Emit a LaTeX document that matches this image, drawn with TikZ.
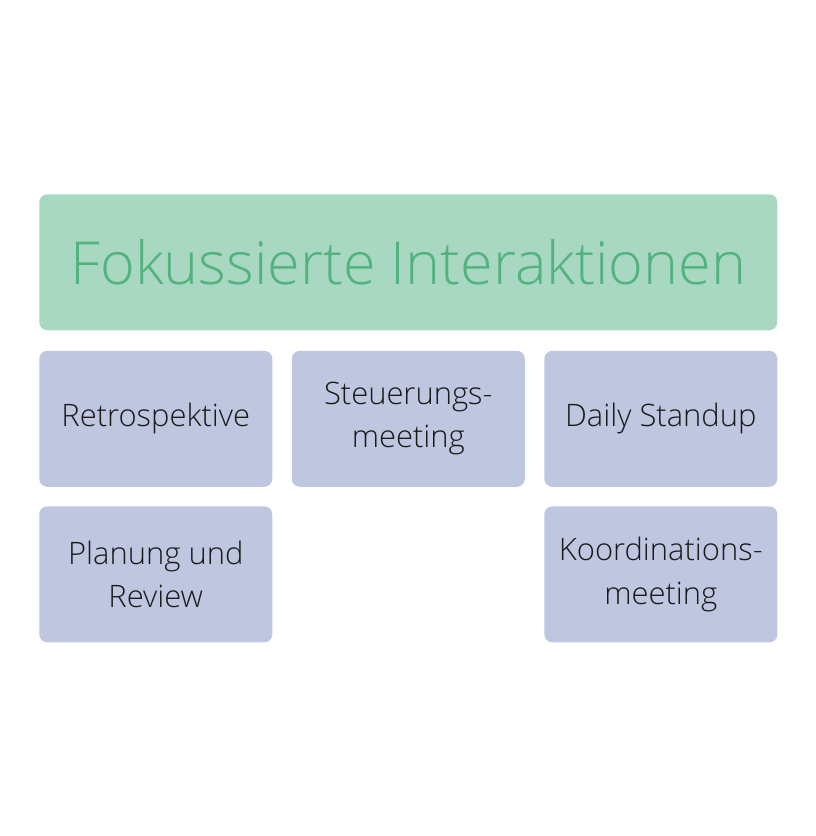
\documentclass[tikz,border=0pt]{standalone}
\usepackage{fontspec}
\setmainfont{Open Sans}[UprightFont={* Light}]
\usetikzlibrary{positioning}
\definecolor{headfill}{HTML}{A8D8C1}
\definecolor{headtext}{HTML}{52B37F}
\definecolor{boxfill}{HTML}{BFC6E0}
\definecolor{boxtext}{HTML}{1A1A1A}

\begin{document}
\begin{tikzpicture}[x=0.75pt, y=-0.75pt]
  \tikzset{
    head/.style={fill=headfill, text=headtext, rounded corners=6pt,
      minimum width=553.5pt, minimum height=102pt, inner sep=0pt,
      font=\fontsize{44.5}{52}\selectfont},
    box/.style={fill=boxfill, text=boxtext, rounded corners=6pt,
      minimum width=174.75pt, minimum height=102pt, inner sep=0pt,
      align=center, font=\fontsize{23.2}{32.5}\selectfont}
  }
  \useasboundingbox (0,0) rectangle (816,836);
  \node[head, anchor=north west] (head) at (39,194) {Fokussierte Interaktionen};
  % erste Reihe
  \node[box, below right=15pt and 0pt of head.south west] (retro) {Retrospektive};
  \node[box, right=14.25pt of retro] (steuer) {Steuerungs-\\meeting};
  \node[box, right=14.25pt of steuer] (daily) {Daily Standup};
  % zweite Reihe
  \node[box, below=14.25pt of retro] (planung) {Planung und\\Review};
  \node[box, below=14.25pt of daily] (koord) {Koordinations-\\meeting};
\end{tikzpicture}
\end{document}
